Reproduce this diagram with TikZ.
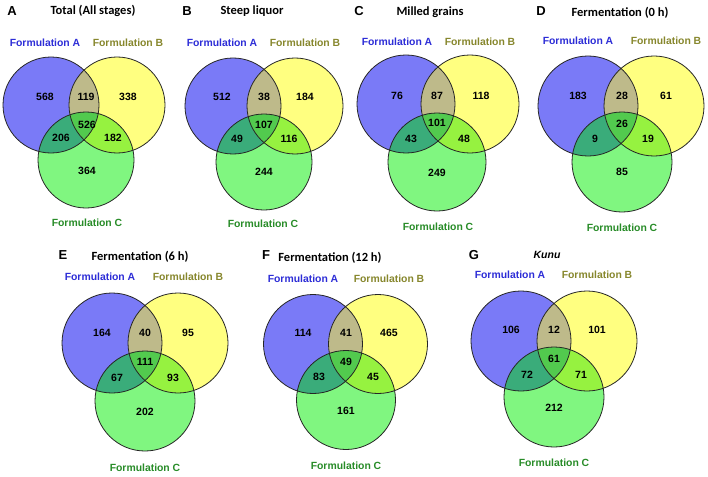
\documentclass[tikz,border=0pt]{standalone}
\usepackage{fontspec}
\setmainfont{Liberation Sans}
\newfontfamily\califont{Carlito}
\definecolor{colA}{RGB}{122,122,247}
\definecolor{colB}{RGB}{255,255,128}
\definecolor{colC}{RGB}{128,246,128}
\definecolor{colAB}{RGB}{190,186,138}
\definecolor{colAC}{RGB}{58,172,122}
\definecolor{colBC}{RGB}{150,242,64}
\definecolor{colABC}{RGB}{82,202,78}
\definecolor{txtA}{RGB}{45,45,215}
\definecolor{txtB}{RGB}{135,135,45}
\definecolor{txtC}{RGB}{40,140,40}
\tikzset{
  num/.style={font=\fontsize{10.5}{10}\selectfont\bfseries, text=black, inner sep=0pt},
  labA/.style={font=\fontsize{10.4}{10}\selectfont\bfseries, text=txtA, inner sep=0pt},
  labB/.style={font=\fontsize{10.4}{10}\selectfont\bfseries, text=txtB, inner sep=0pt},
  labC/.style={font=\fontsize{10.4}{10}\selectfont\bfseries, text=txtC, inner sep=0pt},
  ttl/.style={font=\califont\fontsize{12.5}{12}\selectfont\bfseries, inner sep=0pt},
  letter/.style={font=\fontsize{13}{13}\selectfont\bfseries, inner sep=0pt},
  ring/.style={draw=black!85, line width=0.8pt}
}
% #1 prefix, #2 Ax, #3 Ay, #4 Bx, #5 Cx, #6 Cy, #7 r (pt)
\newcommand{\venncircles}[7]{%
  \coordinate (#1A) at (#2,#3);
  \coordinate (#1B) at (#4,#3);
  \coordinate (#1C) at (#5,#6);
  \fill[colA] (#1A) circle (#7pt);
  \fill[colB] (#1B) circle (#7pt);
  \fill[colC] (#1C) circle (#7pt);
  \begin{scope}\clip (#1A) circle (#7pt); \fill[colAB] (#1B) circle (#7pt);\end{scope}
  \begin{scope}\clip (#1A) circle (#7pt); \fill[colAC] (#1C) circle (#7pt);\end{scope}
  \begin{scope}\clip (#1B) circle (#7pt); \fill[colBC] (#1C) circle (#7pt);\end{scope}
  \begin{scope}\clip (#1A) circle (#7pt); \clip (#1B) circle (#7pt); \fill[colABC] (#1C) circle (#7pt);\end{scope}
  \draw[ring] (#1A) circle (#7pt);
  \draw[ring] (#1B) circle (#7pt);
  \draw[ring] (#1C) circle (#7pt);
}
% #1 prefix, then positions: #2 FA x,y ; #3 FB x,y ; #4 FC x,y
\newcommand{\vennlabels}[4]{%
  \node[labA] (#1fa) at (#2) {Formulation A};
  \node[labB] (#1fb) at (#3) {Formulation B};
  \node[labC] (#1fc) at (#4) {Formulation C};
}
\begin{document}
\begin{tikzpicture}[x=1pt,y=-1pt]
\useasboundingbox (0,0) rectangle (708,476);
\fill[white] (0,0) rectangle (708,476);

% ---- Panel A
\venncircles{pa}{51}{105}{117}{86}{160}{48}
\node[letter] (paL) at (12,11) {A};
\node[ttl] (paT) at (93,11) {Total (All stages)};
\vennlabels{pa}{45,43}{128,43}{87,223}
\node[num] (pa1) at (45,97) {568};
\node[num] (pa2) at (86,97) {119};
\node[num] (pa3) at (128,97) {338};
\node[num] (pa4) at (87,125) {526};
\node[num] (pa5) at (61,138) {206};
\node[num] (pa6) at (113,138) {182};
\node[num] (pa7) at (87,171) {364};

% ---- Panel B
\venncircles{pb}{233}{106}{295}{264}{162}{48}
\node[letter] (pbL) at (187,11) {B};
\node[ttl] (pbT) at (252,11) {Steep liquor};
\vennlabels{pb}{222,43}{305,43}{263,224}
\node[num] (pb1) at (222,97) {512};
\node[num] (pb2) at (264,97) {38};
\node[num] (pb3) at (305,97) {184};
\node[num] (pb4) at (264,125) {107};
\node[num] (pb5) at (237,139) {49};
\node[num] (pb6) at (289,139) {116};
\node[num] (pb7) at (264,172) {244};

% ---- Panel C
\venncircles{pc}{406}{104}{470}{437}{162}{49}
\node[letter] (pcL) at (359,11) {C};
\node[ttl] (pcT) at (430,12) {Milled grains};
\vennlabels{pc}{397,42}{480,42}{438,227}
\node[num] (pc1) at (397,96) {76};
\node[num] (pc2) at (437,96) {87};
\node[num] (pc3) at (481,96) {118};
\node[num] (pc4) at (437,123) {101};
\node[num] (pc5) at (411,139) {43};
\node[num] (pc6) at (464,139) {48};
\node[num] (pc7) at (437,173) {249};

% ---- Panel D
\venncircles{pd}{588}{106}{654}{622}{162}{50}
\node[letter] (pdL) at (541,11) {D};
\node[ttl] (pdT) at (620,13) {Fermentation (0 h)};
\vennlabels{pd}{578,41}{666,41}{622,228}
\node[num] (pd1) at (578,96) {183};
\node[num] (pd2) at (622,96) {28};
\node[num] (pd3) at (666,96) {61};
\node[num] (pd4) at (622,124) {26};
\node[num] (pd5) at (595,139) {9};
\node[num] (pd6) at (648,139) {19};
\node[num] (pd7) at (622,172) {85};

% ---- Panel E
\venncircles{pe}{112}{343}{178}{145}{401}{50}
\node[letter] (peL) at (63,255) {E};
\node[ttl] (peT) at (140,257) {Fermentation (6 h)};
\vennlabels{pe}{100,277}{188,277}{145,468}
\node[num] (pe1) at (102,333) {164};
\node[num] (pe2) at (145,333) {40};
\node[num] (pe3) at (188,333) {95};
\node[num] (pe4) at (145,362) {111};
\node[num] (pe5) at (117,378) {67};
\node[num] (pe6) at (173,378) {93};
\node[num] (pe7) at (145,412) {202};

% ---- Panel F
\venncircles{pf}{313}{344}{378}{346}{400}{49.5}
\node[letter] (pfL) at (266,255) {F};
\node[ttl] (pfT) at (330,258) {Fermentation (12 h)};
\vennlabels{pf}{303,279}{389,279}{346,466}
\node[num] (pf1) at (303,333) {114};
\node[num] (pf2) at (346,333) {41};
\node[num] (pf3) at (389,333) {465};
\node[num] (pf4) at (346,362) {49};
\node[num] (pf5) at (319,377) {83};
\node[num] (pf6) at (373,377) {45};
\node[num] (pf7) at (346,411) {161};

% ---- Panel G
\venncircles{pg}{521}{341}{587}{554}{397}{50}
\node[letter] (pgL) at (474,255) {G};
\node[font=\fontsize{10.5}{10}\selectfont\bfseries\itshape, inner sep=0pt] (pgT) at (547,255) {Kunu};
\vennlabels{pg}{510,275}{597,275}{554,463}
\node[num] (pg1) at (511,330) {106};
\node[num] (pg2) at (554,330) {12};
\node[num] (pg3) at (597,330) {101};
\node[num] (pg4) at (554,359) {61};
\node[num] (pg5) at (527,375) {72};
\node[num] (pg6) at (581,375) {71};
\node[num] (pg7) at (554,408) {212};
\end{tikzpicture}
\end{document}
